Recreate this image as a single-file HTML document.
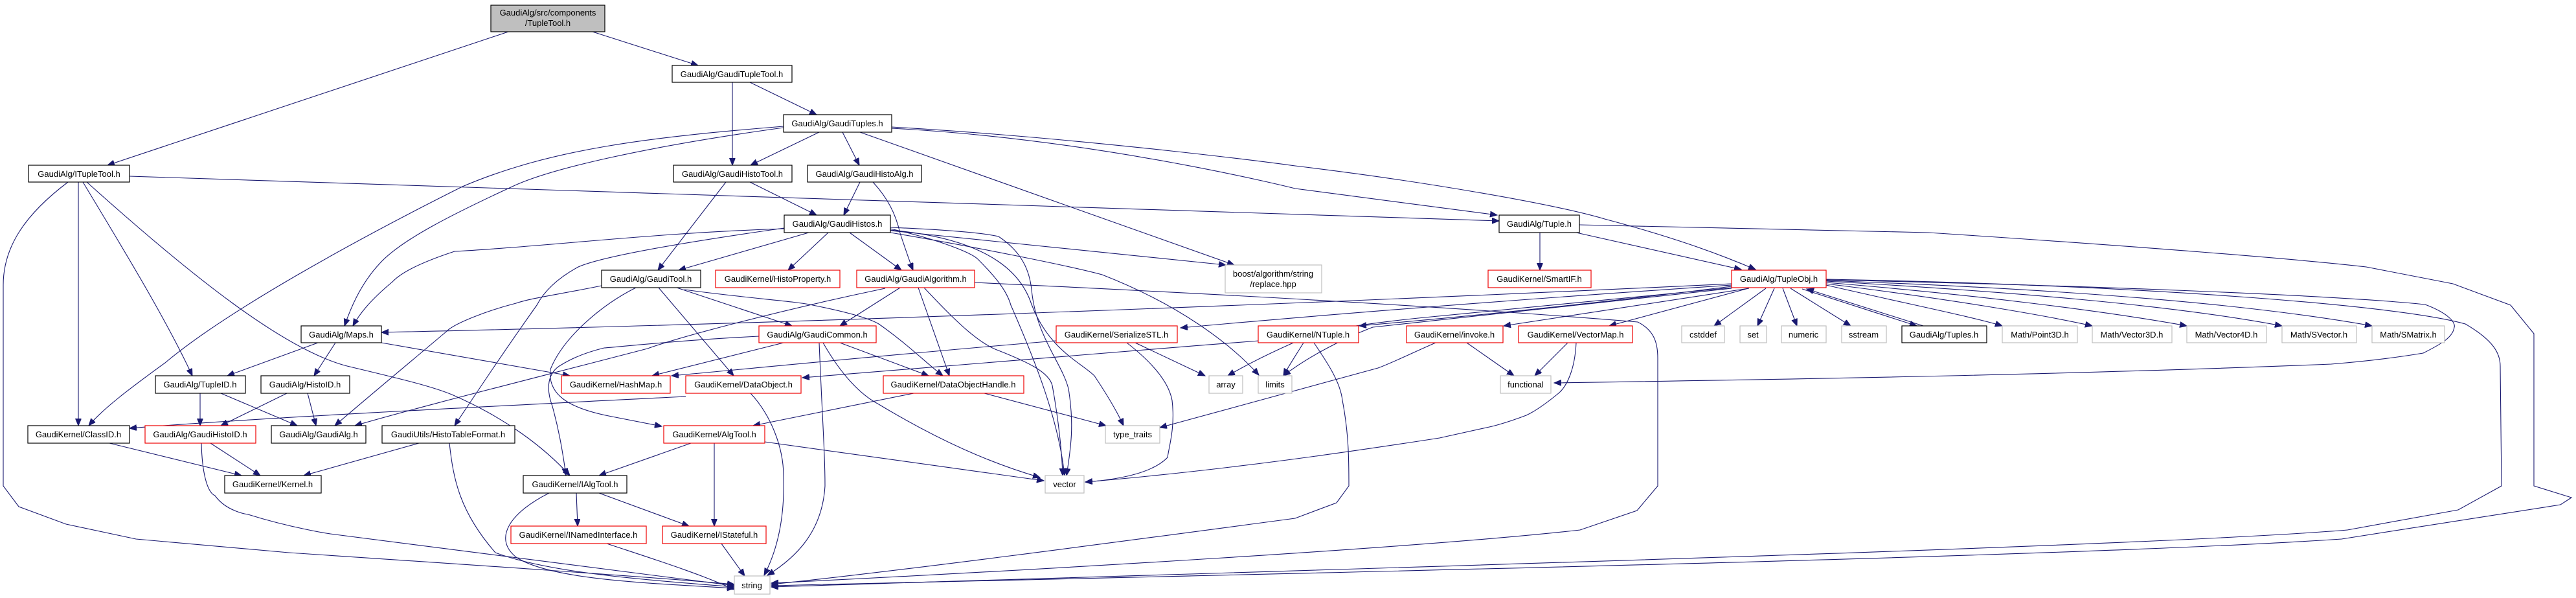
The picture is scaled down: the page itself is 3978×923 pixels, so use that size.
<!DOCTYPE html>
<html><head><meta charset="utf-8"><style>
html,body{margin:0;padding:0;background:#fff;}
svg{display:block;}
text{font-family:"Liberation Sans",Helvetica,Arial,sans-serif;font-size:13px;fill:#000;}
.e{fill:none;stroke:#191970;stroke-width:1.1;marker-end:url(#a);}
.b{fill:#fff;stroke:#000;stroke-width:1.2;}
.r{fill:#fff;stroke:#e00;stroke-width:1.2;}
.g{fill:#fff;stroke:#bfbfbf;stroke-width:1.2;}
</style></head><body>
<svg width="3978" height="923" viewBox="0 0 3978 923" xmlns="http://www.w3.org/2000/svg">
<defs><marker id="a" markerUnits="userSpaceOnUse" markerWidth="12" markerHeight="10" refX="11" refY="4.5" orient="auto"><path d="M0,0 L11,4.5 L0,9 z" fill="#191970" stroke="#191970"/></marker></defs>
<g>
<!-- root edges -->
<path class="e" d="M785,49 L166,255"/>
<path class="e" d="M915,49 L1078,101"/>
<!-- ITupleTool edges -->
<path class="e" d="M105,281 C40,330 5,380 5,440 L5,750 L29,782 L102,809 L210,832 L446,853 C700,870 1000,890 1134,902"/>
<path class="e" d="M121,281 L121,657"/>
<path class="e" d="M128,281 C200,400 260,500 297,580"/>
<path class="e" d="M134,281 C300,430 440,540 536,565 C620,585 670,597 700,610 C780,645 840,690 880,734"/>
<path class="e" d="M200,272 C900,290 1600,320 2315,341"/>
<!-- bottom-left -->
<path class="e" d="M169,684 L373,734"/>
<path class="e" d="M325,684 L402,734"/>
<path class="e" d="M311,684 C312,730 320,760 332,765 C350,790 383,794 383,794 C450,815 510,824 510,824 C800,860 1000,885 1134,904"/>
<path class="e" d="M647,684 L469,734"/>
<path class="e" d="M694,684 C700,740 710,790 765,853 C850,885 1000,895 1134,906"/>
<path class="e" d="M309,607 L309,657"/>
<path class="e" d="M341,607 L459,657"/>
<path class="e" d="M443,607 L341,657"/>
<path class="e" d="M475,607 L488,657"/>
<path class="e" d="M491,529 L351,580"/>
<path class="e" d="M518,529 L485,580"/>
<path class="e" d="M589,529 L880,580"/>
<path class="e" d="M890,761 L892,812"/>
<path class="e" d="M848,761 C790,790 760,830 797,860 C850,895 1000,900 1134,908"/>
<path class="e" d="M925,761 L1064,812"/>
<path class="e" d="M937,839 C1000,860 1080,885 1134,910"/>
<!-- GaudiTuples -->
<path class="e" d="M1210,195 C1000,212 850,230 714,288 C550,370 350,480 255,560 C200,600 160,630 137,657"/>
<path class="e" d="M1210,197 C1000,226 850,260 791,288 C700,330 620,370 587,406 C555,440 540,480 532,503"/>
<path class="e" d="M1158,127 L1261,177"/>
<path class="e" d="M1131,127 L1131,255"/>
<path class="e" d="M1265,204 L1159,255"/>
<path class="e" d="M1301,204 L1327,255"/>
<path class="e" d="M1328,204 L1906,409"/>
<path class="e" d="M1377,198 C1700,215 2000,291 2000,291 L2312,332"/>
<path class="e" d="M1377,196 C1700,215 2000,256 2000,256 C2200,280 2400,315 2478,338 C2580,365 2650,390 2711,416"/>
<!-- GaudiHistoTool/Alg/Histos -->
<path class="e" d="M1158,281 L1261,332"/>
<path class="e" d="M1121,281 L1016,417"/>
<path class="e" d="M1328,281 L1303,332"/>
<path class="e" d="M1348,281 C1370,305 1383,329 1390,360 C1400,390 1405,405 1410,417"/>
<path class="e" d="M1211,353 C1000,360 850,380 702,388 C650,405 620,420 606,435 C570,465 555,485 545,503"/>
<path class="e" d="M1211,352 C1000,382 920,400 893,412 C860,430 840,450 829,471 C780,540 740,600 702,657"/>
<path class="e" d="M1249,359 L1048,417"/>
<path class="e" d="M1279,359 L1217,417"/>
<path class="e" d="M1312,359 L1392,417"/>
<path class="e" d="M1375,356 L1893,409"/>
<path class="e" d="M1375,353 C1450,370 1500,390 1510,400 C1540,430 1555,450 1561,471 C1600,560 1635,650 1644,734"/>
<path class="e" d="M1375,351 C1470,355 1520,360 1542,365 C1580,390 1590,420 1593,447 C1600,520 1640,560 1650,600 C1660,660 1652,700 1647,734"/>
<path class="e" d="M1375,355 C1540,370 1580,430 1593,470 C1620,540 1670,560 1690,580 C1710,610 1725,635 1735,657"/>
<path class="e" d="M1375,359 C1500,380 1650,410 1702,424 C1820,470 1900,530 1944,579"/>
<!-- GaudiTool -->
<path class="e" d="M929,441 C860,455 820,460 797,468 C750,480 700,500 689,512 C620,570 560,620 517,657"/>
<path class="e" d="M982,444 C930,470 870,520 850,570 C845,610 880,630 940,642 L1022,658"/>
<path class="e" d="M1017,444 L1133,580"/>
<path class="e" d="M1045,444 L1223,503"/>
<path class="e" d="M1057,447 C1150,460 1230,465 1255,471 C1300,480 1340,490 1357,500 C1400,530 1430,560 1456,580"/>
<!-- GaudiAlgorithm -->
<path class="e" d="M1390,444 L1297,503"/>
<path class="e" d="M1418,444 L1466,580"/>
<path class="e" d="M1427,444 C1470,490 1510,530 1542,541 C1590,560 1620,575 1625,595 C1635,650 1640,700 1641,734"/>
<path class="e" d="M1367,445 C1200,480 1050,520 1000,538 C800,590 640,630 548,657"/>
<path class="e" d="M1505,436 C1800,450 2200,470 2529,497 C2555,510 2560,530 2560,553 L2560,750 L2528,788 L2440,818 C2200,845 1600,880 1191,900"/>
<!-- GaudiCommon -->
<path class="e" d="M1210,529 L1007,580"/>
<path class="e" d="M1297,529 L1434,580"/>
<path class="e" d="M1265,529 C1270,650 1274,700 1274,750 C1270,820 1230,860 1185,888"/>
<path class="e" d="M1271,529 C1300,580 1330,610 1357,624 C1450,680 1530,715 1606,737"/>
<path class="e" d="M1172,519 C1050,525 960,535 933,537 C900,545 880,555 867,563 C845,575 843,600 853,627 C862,660 868,690 874,734"/>
<!-- SerializeSTL / NTuple -->
<path class="e" d="M1631,526 C1400,545 1200,565 1037,580"/>
<path class="e" d="M1753,529 L1861,580"/>
<path class="e" d="M1740,529 C1780,560 1805,590 1810,618 C1815,660 1805,690 1803,706 C1780,730 1730,740 1676,744"/>
<path class="e" d="M1944,526 C1700,545 1450,565 1239,583"/>
<path class="e" d="M2013,529 C2000,550 1990,565 1982,580"/>
<path class="e" d="M2029,529 C2050,560 2070,590 2073,618 C2083,670 2083,710 2083,750 L2064,776 L2000,800 C1700,840 1400,880 1191,902"/>
<!-- DataObject / Handle / AlgTool -->
<path class="e" d="M1059,612 C700,630 400,645 200,661"/>
<path class="e" d="M1159,607 C1190,640 1210,690 1210,735 C1212,800 1200,850 1180,888"/>
<path class="e" d="M1411,607 L1163,657"/>
<path class="e" d="M1520,607 L1708,657"/>
<path class="e" d="M1067,684 L925,734"/>
<path class="e" d="M1103,684 L1103,812"/>
<path class="e" d="M1181,682 L1612,742"/>
<path class="e" d="M1114,839 L1150,889"/>
<!-- Tuple.h -->
<path class="e" d="M2378,359 L2378,417"/>
<path class="e" d="M2434,359 L2689,416"/>
<path class="e" d="M2439,347 L2978,359 C3300,380 3550,400 3654,412 L3788,438 L3877,471 L3913,515 L3913,750 L3971,768 L3954,779 L3616,832 C3200,860 2000,885 1191,904"/>
<!-- TupleObj fan-out -->
<path class="e" d="M2674,438 C2000,470 1200,500 589,513"/>
<path class="e" d="M2674,440 C2300,465 2000,490 1823,506"/>
<path class="e" d="M2674,442 C2450,470 2250,490 2099,503"/>
<path class="e" d="M2674,444 C2400,470 2250,485 2200,490 C2100,500 2050,510 2030,515 C1970,540 1930,560 1896,580"/>
<path class="e" d="M2674,445 C2350,480 2150,500 2120,505 C2080,520 2020,550 1982,580"/>
<path class="e" d="M2701,445 L2322,503"/>
<path class="e" d="M2700,445 L2485,503"/>
<path class="e" d="M2727,445 L2647,503"/>
<path class="e" d="M2740,445 L2714,503"/>
<path class="e" d="M2753,445 L2775,503"/>
<path class="e" d="M2765,445 L2858,503"/>
<path class="e" d="M2783,446 L2960,503"/>
<path class="e" d="M2970,503 L2790,446"/>
<path class="e" d="M2820,440 C2950,470 3050,490 3092,503"/>
<path class="e" d="M2820,438 C3000,460 3150,485 3231,503"/>
<path class="e" d="M2820,436 C3050,455 3250,480 3377,503"/>
<path class="e" d="M2820,434 C3100,450 3350,470 3524,503"/>
<path class="e" d="M2820,433 C3150,445 3450,465 3663,503"/>
<path class="e" d="M2820,432 C3200,440 3600,455 3745,470 C3785,485 3792,500 3790,505 C3788,520 3772,530 3742,545 C3700,552 3650,558 3600,562 C3200,578 2800,585 2400,591"/>
<path class="e" d="M2820,431 C3300,440 3700,470 3807,500 C3850,525 3861,545 3861,565 L3863,750 L3796,787 L3625,818 C3300,845 2000,880 1191,906"/>
<!-- invoke / VectorMap -->
<path class="e" d="M2217,529 C2180,545 2150,560 2128,568 C2050,590 1900,630 1791,660"/>
<path class="e" d="M2265,529 L2338,580"/>
<path class="e" d="M2421,529 L2370,580"/>
<path class="e" d="M2434,529 C2432,570 2420,595 2408,606 C2385,625 2370,635 2357,641 C2320,655 2300,659 2300,659 C2260,668 2223,676 2223,676 C2100,695 1900,725 1676,744"/>
</g>
<g>
<rect x="758" y="8" width="176" height="41" fill="#bfbfbf" stroke="#000" stroke-width="1.2"/>
<text x="846" y="24" text-anchor="middle">GaudiAlg/src/components</text>
<text x="846" y="40" text-anchor="middle">/TupleTool.h</text>

<rect class="b" x="1038" y="101" width="185" height="26"/><text x="1130" y="119" text-anchor="middle">GaudiAlg/GaudiTupleTool.h</text>
<rect class="b" x="1210" y="177" width="167" height="27"/><text x="1293" y="195" text-anchor="middle">GaudiAlg/GaudiTuples.h</text>

<rect class="b" x="44" y="255" width="156" height="26"/><text x="122" y="273" text-anchor="middle">GaudiAlg/ITupleTool.h</text>
<rect class="b" x="1040" y="255" width="183" height="26"/><text x="1131" y="273" text-anchor="middle">GaudiAlg/GaudiHistoTool.h</text>
<rect class="b" x="1247" y="255" width="176" height="26"/><text x="1335" y="273" text-anchor="middle">GaudiAlg/GaudiHistoAlg.h</text>

<rect class="b" x="1211" y="332" width="164" height="27"/><text x="1293" y="350" text-anchor="middle">GaudiAlg/GaudiHistos.h</text>
<rect class="b" x="2315" y="332" width="124" height="27"/><text x="2377" y="350" text-anchor="middle">GaudiAlg/Tuple.h</text>

<rect class="b" x="929" y="417" width="153" height="27"/><text x="1005" y="435" text-anchor="middle">GaudiAlg/GaudiTool.h</text>
<rect class="r" x="1105" y="417" width="192" height="27"/><text x="1201" y="435" text-anchor="middle">GaudiKernel/HistoProperty.h</text>
<rect class="r" x="1323" y="417" width="182" height="27"/><text x="1414" y="435" text-anchor="middle">GaudiAlg/GaudiAlgorithm.h</text>
<rect class="g" x="1892" y="409" width="149" height="43"/><text x="1966" y="427" text-anchor="middle">boost/algorithm/string</text><text x="1966" y="443" text-anchor="middle">/replace.hpp</text>
<rect class="r" x="2298" y="417" width="159" height="27"/><text x="2377" y="435" text-anchor="middle">GaudiKernel/SmartIF.h</text>
<rect class="r" x="2674" y="417" width="146" height="27"/><text x="2747" y="435" text-anchor="middle">GaudiAlg/TupleObj.h</text>

<rect class="b" x="465" y="503" width="124" height="26"/><text x="527" y="521" text-anchor="middle">GaudiAlg/Maps.h</text>
<rect class="r" x="1172" y="503" width="181" height="26"/><text x="1262" y="521" text-anchor="middle">GaudiAlg/GaudiCommon.h</text>
<rect class="r" x="1631" y="503" width="187" height="26"/><text x="1724" y="521" text-anchor="middle">GaudiKernel/SerializeSTL.h</text>
<rect class="r" x="1943" y="503" width="155" height="26"/><text x="2020" y="521" text-anchor="middle">GaudiKernel/NTuple.h</text>
<rect class="r" x="2172" y="503" width="149" height="26"/><text x="2246" y="521" text-anchor="middle">GaudiKernel/invoke.h</text>
<rect class="r" x="2345" y="503" width="176" height="26"/><text x="2433" y="521" text-anchor="middle">GaudiKernel/VectorMap.h</text>
<rect class="g" x="2597" y="503" width="66" height="26"/><text x="2630" y="521" text-anchor="middle">cstddef</text>
<rect class="g" x="2687" y="503" width="41" height="26"/><text x="2707" y="521" text-anchor="middle">set</text>
<rect class="g" x="2751" y="503" width="69" height="26"/><text x="2785" y="521" text-anchor="middle">numeric</text>
<rect class="g" x="2844" y="503" width="69" height="26"/><text x="2878" y="521" text-anchor="middle">sstream</text>
<rect class="b" x="2937" y="503" width="131" height="26"/><text x="3002" y="521" text-anchor="middle">GaudiAlg/Tuples.h</text>
<rect class="g" x="3092" y="503" width="116" height="26"/><text x="3150" y="521" text-anchor="middle">Math/Point3D.h</text>
<rect class="g" x="3231" y="503" width="123" height="26"/><text x="3292" y="521" text-anchor="middle">Math/Vector3D.h</text>
<rect class="g" x="3377" y="503" width="123" height="26"/><text x="3438" y="521" text-anchor="middle">Math/Vector4D.h</text>
<rect class="g" x="3524" y="503" width="115" height="26"/><text x="3581" y="521" text-anchor="middle">Math/SVector.h</text>
<rect class="g" x="3663" y="503" width="112" height="26"/><text x="3719" y="521" text-anchor="middle">Math/SMatrix.h</text>

<rect class="b" x="240" y="580" width="139" height="27"/><text x="309" y="598" text-anchor="middle">GaudiAlg/TupleID.h</text>
<rect class="b" x="403" y="580" width="137" height="27"/><text x="471" y="598" text-anchor="middle">GaudiAlg/HistoID.h</text>
<rect class="r" x="867" y="580" width="168" height="27"/><text x="951" y="598" text-anchor="middle">GaudiKernel/HashMap.h</text>
<rect class="r" x="1059" y="580" width="178" height="27"/><text x="1148" y="598" text-anchor="middle">GaudiKernel/DataObject.h</text>
<rect class="r" x="1364" y="580" width="217" height="27"/><text x="1472" y="598" text-anchor="middle">GaudiKernel/DataObjectHandle.h</text>
<rect class="g" x="1867" y="580" width="52" height="27"/><text x="1893" y="598" text-anchor="middle">array</text>
<rect class="g" x="1943" y="580" width="52" height="27"/><text x="1969" y="598" text-anchor="middle">limits</text>
<rect class="g" x="2317" y="580" width="78" height="27"/><text x="2356" y="598" text-anchor="middle">functional</text>

<rect class="b" x="43" y="657" width="157" height="27"/><text x="121" y="675" text-anchor="middle">GaudiKernel/ClassID.h</text>
<rect class="r" x="224" y="657" width="171" height="27"/><text x="309" y="675" text-anchor="middle">GaudiAlg/GaudiHistoID.h</text>
<rect class="b" x="419" y="657" width="146" height="27"/><text x="492" y="675" text-anchor="middle">GaudiAlg/GaudiAlg.h</text>
<rect class="b" x="590" y="657" width="205" height="27"/><text x="692" y="675" text-anchor="middle">GaudiUtils/HistoTableFormat.h</text>
<rect class="r" x="1025" y="657" width="156" height="27"/><text x="1103" y="675" text-anchor="middle">GaudiKernel/AlgTool.h</text>
<rect class="g" x="1707" y="657" width="84" height="27"/><text x="1749" y="675" text-anchor="middle">type_traits</text>

<rect class="b" x="347" y="734" width="149" height="27"/><text x="421" y="752" text-anchor="middle">GaudiKernel/Kernel.h</text>
<rect class="b" x="808" y="734" width="160" height="27"/><text x="888" y="752" text-anchor="middle">GaudiKernel/IAlgTool.h</text>
<rect class="g" x="1614" y="734" width="60" height="27"/><text x="1644" y="752" text-anchor="middle">vector</text>

<rect class="r" x="789" y="812" width="209" height="27"/><text x="893" y="830" text-anchor="middle">GaudiKernel/INamedInterface.h</text>
<rect class="r" x="1023" y="812" width="160" height="27"/><text x="1103" y="830" text-anchor="middle">GaudiKernel/IStateful.h</text>

<rect class="g" x="1134" y="889" width="55" height="28"/><text x="1161" y="908" text-anchor="middle">string</text>
</g>
</svg>
</body></html>
